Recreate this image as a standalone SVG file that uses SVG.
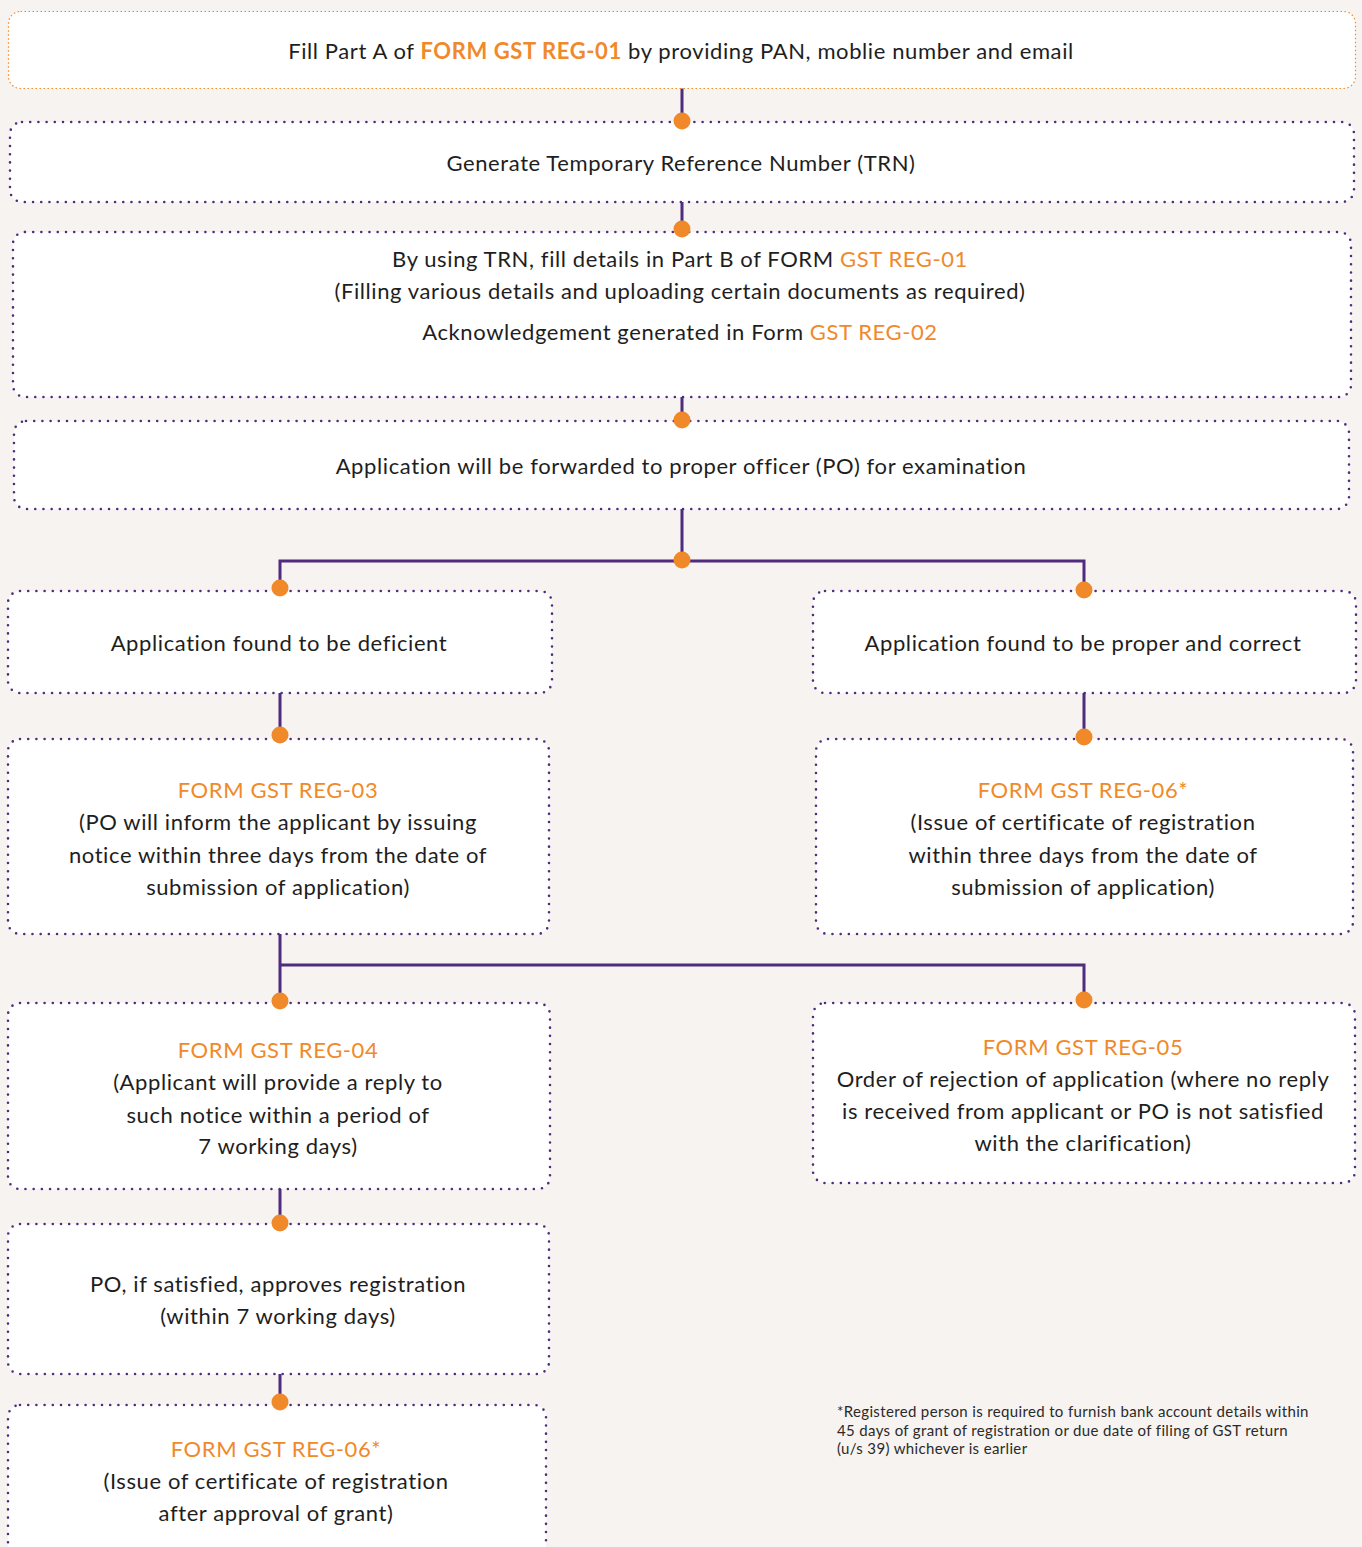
<svg xmlns="http://www.w3.org/2000/svg" width="1362" height="1547" viewBox="0 0 1362 1547">
<style>
.bg{fill:#f7f3f0}
.box{fill:#ffffff;stroke:#4f2c7e;stroke-width:2.6;stroke-dasharray:0 8.2;stroke-linecap:round}
.box0{fill:#ffffff;stroke:#f0892a;stroke-width:1.2;stroke-dasharray:1.5 2.5}
.t{font-family:Lato,"Liberation Sans",sans-serif;font-size:22px;letter-spacing:0.6px;fill:#1e1e1e;text-anchor:middle}
.o{fill:#f0892a}
.b{font-weight:bold}
.fn{font-family:Lato,"Liberation Sans",sans-serif;font-size:15px;letter-spacing:0.35px;fill:#2a2a2a}
.ln{fill:none;stroke:#4f2c7e;stroke-width:3}
.dot{fill:#f0892a}
</style>
<rect class="bg" x="0" y="0" width="1362" height="1547"/>
<g id="connectors">
<path class="ln" d="M682 88V122M682 202V232M682 397V421M682 509V561M280 590V561H1084V590M280 693V739M1084 693V739M280 934V1003M280 965H1084V1003M280 1189V1224M280 1374V1405"/>
</g>
<g id="n1"><rect class="box0" x="8.5" y="11.5" width="1347" height="77" rx="12"/>
<text class="t" x="681" y="59">Fill Part A of <tspan class="o b">FORM GST REG-01</tspan> by providing PAN, moblie number and email</text></g>
<g id="n2"><rect class="box" x="10" y="122" width="1344" height="80" rx="12"/>
<text class="t" x="681" y="171">Generate Temporary Reference Number (TRN)</text></g>
<g id="n3"><rect class="box" x="13" y="232" width="1338" height="165" rx="12"/>
<text class="t" x="680" y="267">By using TRN, fill details in Part B of FORM <tspan class="o">GST REG-01</tspan></text>
<text class="t" x="680" y="299">(Filling various details and uploading certain documents as required)</text>
<text class="t" x="680" y="340">Acknowledgement generated in Form <tspan class="o">GST REG-02</tspan></text></g>
<g id="n4"><rect class="box" x="14" y="421" width="1335" height="88" rx="12"/>
<text class="t" x="681" y="474">Application will be forwarded to proper officer (PO) for examination</text></g>
<g id="n5"><rect class="box" x="8" y="591" width="544" height="102" rx="12"/>
<text class="t" x="279" y="651">Application found to be deficient</text></g>
<g id="n6"><rect class="box" x="813" y="591" width="543" height="102" rx="12"/>
<text class="t" x="1083" y="651">Application found to be proper and correct</text></g>
<g id="n7"><rect class="box" x="8" y="739" width="541" height="195" rx="12"/>
<text class="t o" x="278" y="798">FORM GST REG-03</text>
<text class="t" x="278" y="830">(PO will inform the applicant by issuing</text>
<text class="t" x="278" y="863">notice within three days from the date of</text>
<text class="t" x="278" y="895">submission of application)</text></g>
<g id="n8"><rect class="box" x="816" y="739" width="537" height="195" rx="12"/>
<text class="t o" x="1083" y="798">FORM GST REG-06*</text>
<text class="t" x="1083" y="830">(Issue of certificate of registration</text>
<text class="t" x="1083" y="863">within three days from the date of</text>
<text class="t" x="1083" y="895">submission of application)</text></g>
<g id="n9"><rect class="box" x="8" y="1003" width="542" height="186" rx="12"/>
<text class="t o" x="278" y="1058">FORM GST REG-04</text>
<text class="t" x="278" y="1090">(Applicant will provide a reply to</text>
<text class="t" x="278" y="1123">such notice within a period of</text>
<text class="t" x="278" y="1154">7 working days)</text></g>
<g id="n10"><rect class="box" x="813" y="1003" width="542" height="180" rx="12"/>
<text class="t o" x="1083" y="1055">FORM GST REG-05</text>
<text class="t" x="1083" y="1087">Order of rejection of application (where no reply</text>
<text class="t" x="1083" y="1119">is received from applicant or PO is not satisfied</text>
<text class="t" x="1083" y="1151">with the clarification)</text></g>
<g id="n11"><rect class="box" x="8" y="1224" width="541" height="150" rx="12"/>
<text class="t" x="278" y="1292">PO, if satisfied, approves registration</text>
<text class="t" x="278" y="1324">(within 7 working days)</text></g>
<g id="n12"><rect class="box" x="8" y="1405" width="538" height="180" rx="12"/>
<text class="t o" x="276" y="1457">FORM GST REG-06*</text>
<text class="t" x="276" y="1489">(Issue of certificate of registration</text>
<text class="t" x="276" y="1521">after approval of grant)</text></g>
<g id="dots">
<circle class="dot" cx="682" cy="121" r="8.5"/>
<circle class="dot" cx="682" cy="229" r="8.5"/>
<circle class="dot" cx="682" cy="420" r="8.5"/>
<circle class="dot" cx="682" cy="560" r="8.5"/>
<circle class="dot" cx="280" cy="588" r="8.5"/>
<circle class="dot" cx="1084" cy="590" r="8.5"/>
<circle class="dot" cx="280" cy="735" r="8.5"/>
<circle class="dot" cx="1084" cy="737" r="8.5"/>
<circle class="dot" cx="280" cy="1001" r="8.5"/>
<circle class="dot" cx="1084" cy="1000" r="8.5"/>
<circle class="dot" cx="280" cy="1223" r="8.5"/>
<circle class="dot" cx="280" cy="1402" r="8.5"/>
</g>
<g id="footnote">
<text class="fn" x="837" y="1417">*Registered person is required to furnish bank account details within</text>
<text class="fn" x="837" y="1436">45 days of grant of registration or due date of filing of GST return</text>
<text class="fn" x="837" y="1454">(u/s 39) whichever is earlier</text>
</g>
</svg>
